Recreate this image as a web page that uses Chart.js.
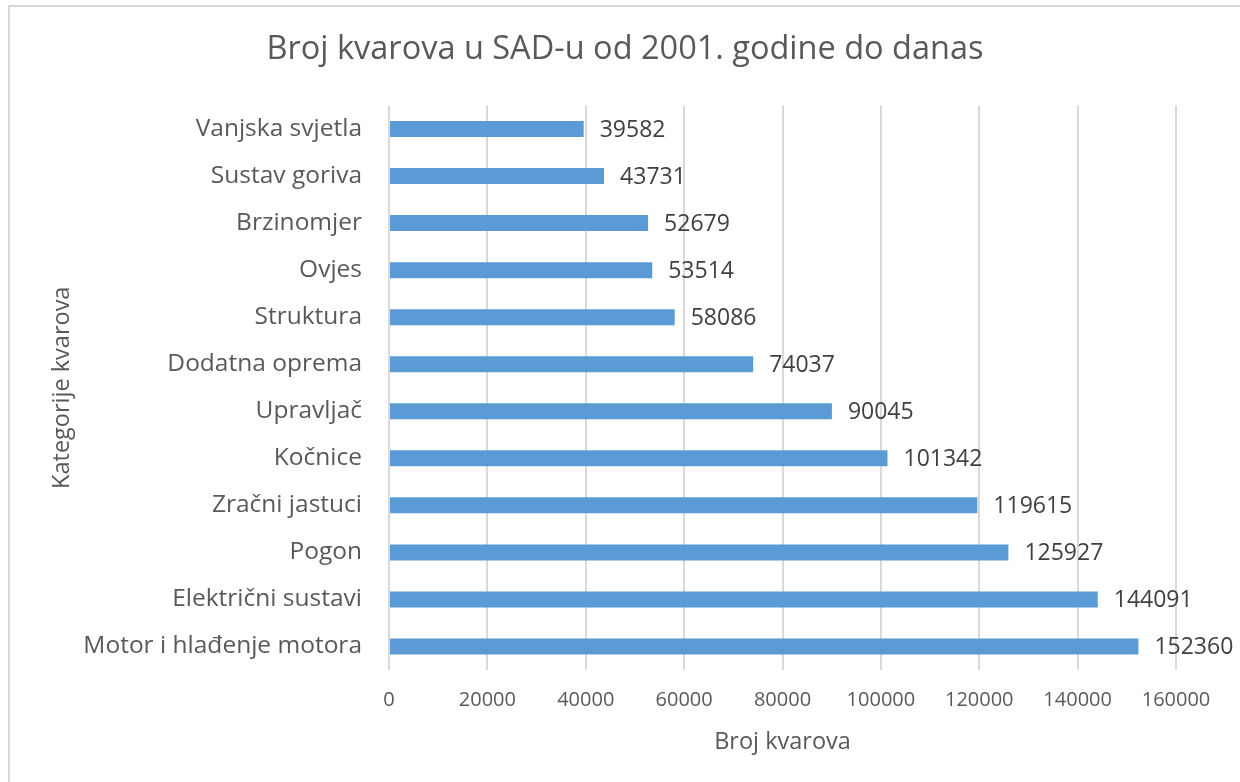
<!DOCTYPE html>
<html>
<head>
<meta charset="utf-8">
<script src="https://cdn.jsdelivr.net/npm/chart.js@4"></script>
<style>
  html, body { margin: 0; padding: 0; background: #fff; }
  #wrap { position: absolute; left: 0; top: 0; width: 1240px; height: 782px; }
  #frame { position: absolute; left: 8px; top: 5px; width: 1250px; height: 800px; border: 2px solid #D9D9D9; box-sizing: border-box; }
  canvas { position: absolute; left: 0; top: 0; }
</style>
</head>
<body>
<div id="wrap">
  <div id="frame"></div>
  <canvas id="c" width="1240" height="782"></canvas>
</div>
<script>
const categories = [
  "Vanjska svjetla", "Sustav goriva", "Brzinomjer", "Ovjes", "Struktura",
  "Dodatna oprema", "Upravljač", "Kočnice", "Zračni jastuci", "Pogon",
  "Električni sustavi", "Motor i hlađenje motora"
];
const failures = [39582, 43731, 52679, 53514, 58086, 74037, 90045, 101342, 119615, 125927, 144091, 152360];
const xTicks = [0, 20000, 40000, 60000, 80000, 100000, 120000, 140000, 160000];
const chartTitle = "Broj kvarova u SAD-u od 2001. godine do danas";
const xTitle = "Broj kvarova";
const yTitle = "Kategorije kvarova";

const FONT = "'Open Sans', 'Noto Sans', sans-serif";
const TEXT = "#595959";

const titleAndLabels = {
  id: "titleAndLabels",
  afterDatasetsDraw(chart) {
    const ctx = chart.ctx;
    const meta = chart.getDatasetMeta(0);
    ctx.save();
    ctx.font = "23px " + FONT;
    ctx.fillStyle = "#404040";
    ctx.textAlign = "left";
    ctx.textBaseline = "middle";
    meta.data.forEach((bar, i) => {
      ctx.fillText(String(failures[i]), bar.x + 16, bar.y + 1);
    });
    ctx.font = "32.5px " + FONT;
    ctx.fillStyle = TEXT;
    ctx.textAlign = "center";
    ctx.fillText(chartTitle, 625, 50);
    ctx.restore();
  }
};

new Chart(document.getElementById("c"), {
  type: "bar",
  data: {
    labels: categories,
    datasets: [{
      data: failures,
      backgroundColor: "#5B9BD5",
      borderWidth: 0,
      barPercentage: 0.68,
      categoryPercentage: 0.5
    }]
  },
  plugins: [titleAndLabels],
  options: {
    indexAxis: "y",
    responsive: false,
    animation: false,
    devicePixelRatio: 1,
    layout: { padding: { left: 0, right: 64, top: 105.5, bottom: 0 } },
    plugins: {
      legend: { display: false },
      tooltip: { enabled: false },
      title: { display: false }
    },
    scales: {
      x: {
        min: 0,
        max: 160000,
        afterBuildTicks(scale) { scale.ticks = xTicks.map(v => ({ value: v })); },
        afterFit(scale) { scale.height = 112; },
        grid: { color: "#D9D9D9", lineWidth: 2, drawTicks: false },
        border: { display: false },
        ticks: {
          color: TEXT, font: { family: FONT, size: 20 }, padding: 18, maxRotation: 0, autoSkip: false,
          callback: (v) => String(v)
        },
        title: { display: true, text: xTitle, color: TEXT, font: { family: FONT, size: 23.5 }, padding: { top: 0, bottom: 26 } }
      },
      y: {
        afterFit(scale) { scale.width = 389; },
        grid: { display: false, drawTicks: false },
        border: { display: false },
        ticks: { color: TEXT, font: { family: FONT, size: 24.5 }, padding: 27, autoSkip: false },
        title: { display: true, text: yTitle, color: TEXT, font: { family: FONT, size: 23.5 }, padding: { top: 48, bottom: 0 } }
      }
    }
  }
});
</script>
</body>
</html>
